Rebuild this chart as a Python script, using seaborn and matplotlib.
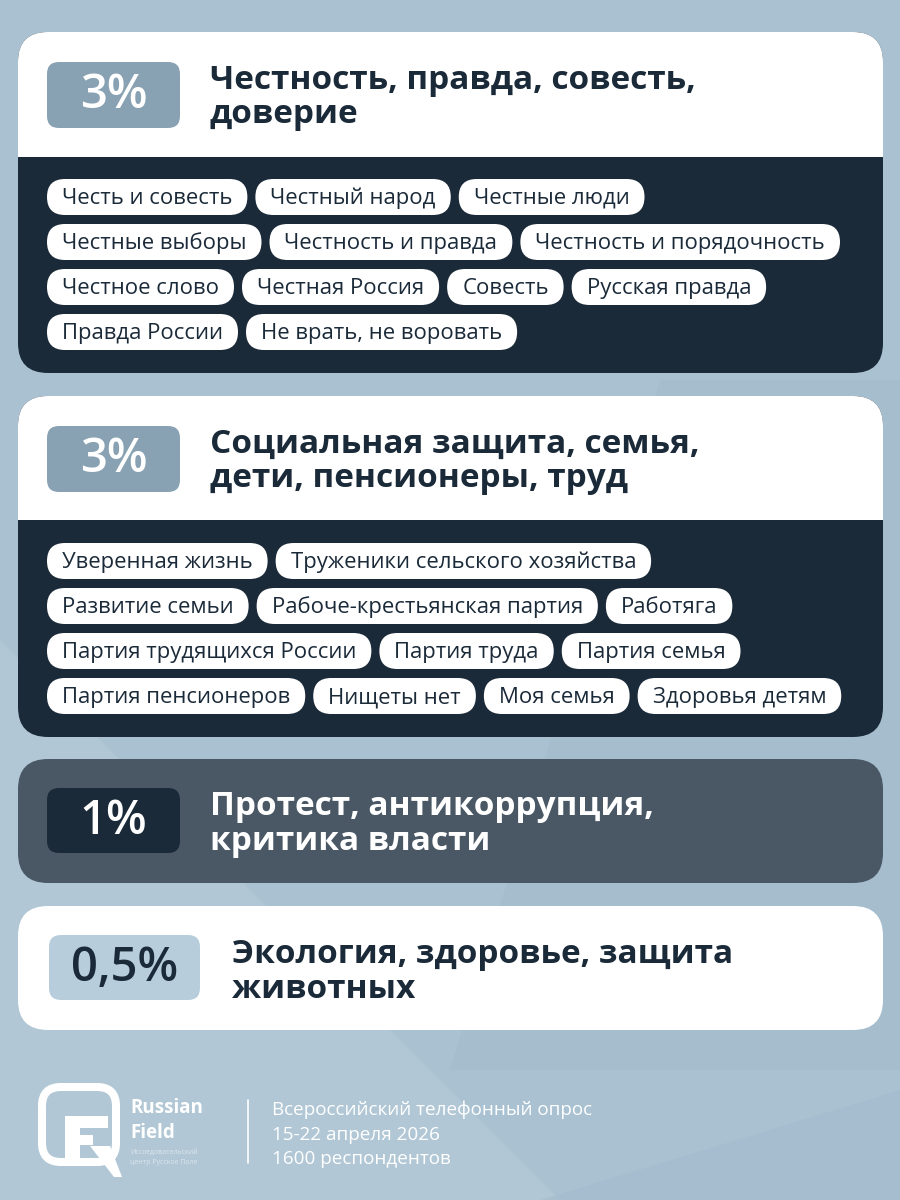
import seaborn as sns
import matplotlib.pyplot as plt
from matplotlib.patches import FancyBboxPatch, Rectangle, Polygon

# ---------------- DATA ----------------
shares = ["3%", "3%", "1%", "0,5%"]
title_lines = [
    ["Честность, правда, совесть,", "доверие"],
    ["Социальная защита, семья,", "дети, пенсионеры, труд"],
    ["Протест, антикоррупция,", "критика власти"],
    ["Экология, здоровье, защита", "животных"],
]
tags_honesty = [
    ["Честь и совесть", "Честный народ", "Честные люди"],
    ["Честные выборы", "Честность и правда", "Честность и порядочность"],
    ["Честное слово", "Честная Россия", "Совесть", "Русская правда"],
    ["Правда России", "Не врать, не воровать"],
]
tags_social = [
    ["Уверенная жизнь", "Труженики сельского хозяйства"],
    ["Развитие семьи", "Рабоче-крестьянская партия", "Работяга"],
    ["Партия трудящихся России", "Партия труда", "Партия семья"],
    ["Партия пенсионеров", "Нищеты нет", "Моя семья", "Здоровья детям"],
]
brand_lines = ["Russian", "Field"]
brand_sub = ["Исследовательский", "центр Русское Поле"]
survey_lines = ["Всероссийский телефонный опрос", "15-22 апреля 2026", "1600 респондентов"]

# ---------------- STYLE ----------------
sns.set_theme(style="white")
plt.rcParams["font.family"] = ["Open Sans", "DejaVu Sans"]

BG = "#a9c1d1"
NAVY = "#1b2a39"
SLATE = "#4a5865"
BADGE_GREY = "#89a2b3"
BADGE_LIGHT = "#b8cddb"

fig = plt.figure(figsize=(9, 12), dpi=100)
ax = fig.add_axes([0, 0, 1, 1])
ax.set_xlim(0, 900)
ax.set_ylim(1200, 0)
ax.axis("off")
fig.patch.set_facecolor(BG)
renderer = fig.canvas.get_renderer()

# background shading
ax.add_patch(Polygon([(0, 1200), (0, 640), (560, 1200)], fc="#b8cdda", ec="none", alpha=0.55, zorder=0))
ax.add_patch(Polygon([(900, 380), (900, 1070), (450, 1070), (660, 380)], fc="#a2bacb", ec="none", alpha=0.5, zorder=0))
ax.add_patch(Polygon([(540, 1200), (900, 1090), (900, 1200)], fc="#a3bbcc", ec="none", alpha=0.5, zorder=0))


def rbox(x, y, w, h, r, color, z=2):
    p = FancyBboxPatch((x, y), w, h, boxstyle=f"round,pad=0,rounding_size={r}",
                       fc=color, ec="none", zorder=z)
    ax.add_patch(p)
    return p


def card(top, split, bottom, head_color, body_color):
    p = rbox(18, top, 865, bottom - top, 30, body_color)
    if split is not None:
        head = Rectangle((0, top), 900, split - top, fc=head_color, ec="none", zorder=2)
        ax.add_patch(head)
        head.set_clip_path(p)
    return p


def badge(x, y, w, h, label, fc, tc):
    rbox(x, y, w, h, 12, fc, z=3)
    ax.text(x + w / 2, y + h / 2 + 1, label, ha="center", va="center",
            fontsize=34, fontweight="semibold", color=tc, zorder=4)


def title(x, baselines, lines, color):
    for b, line in zip(baselines, lines):
        ax.text(x, b, line, ha="left", va="baseline", fontsize=24,
                fontweight="bold", color=color, zorder=4)


def tags(rows, top):
    for i, row in enumerate(rows):
        x = 47
        y = top + i * 45
        for tag in row:
            t = ax.text(x + 15, y + 25, tag, ha="left", va="baseline",
                        fontsize=15.9, color=NAVY, zorder=5)
            w = t.get_window_extent(renderer).width
            rbox(x, y, w + 30, 36, 18, "white", z=4)
            x += w + 30 + 8


# card 1
card(32, 157, 373, "white", NAVY)
badge(47, 62, 133, 66, shares[0], BADGE_GREY, "white")
title(210, [89, 123], title_lines[0], NAVY)
tags(tags_honesty, 179)

# card 2
card(396, 520, 737, "white", NAVY)
badge(47, 426, 133, 66, shares[1], BADGE_GREY, "white")
title(210, [453, 487], title_lines[1], NAVY)
tags(tags_social, 543)

# card 3
card(759, None, 883, None, SLATE)
badge(47, 788, 133, 65, shares[2], NAVY, "white")
title(210, [815, 850], title_lines[2], "white")

# card 4
card(906, None, 1030, None, "white")
badge(49, 935, 151, 65, shares[3], BADGE_LIGHT, NAVY)
title(232, [963, 998], title_lines[3], NAVY)

# ---------------- FOOTER ----------------
# logo: rounded outline with an F inside and a diagonal leg
logo = FancyBboxPatch((42, 1087), 74, 75, boxstyle="round,pad=0,rounding_size=19",
                      fc="none", ec="white", lw=5.8, zorder=3)
ax.add_patch(logo)
ax.add_patch(Rectangle((65, 1116), 15, 46, fc="white", ec="none", zorder=3))
ax.add_patch(Rectangle((65, 1116), 43, 12, fc="white", ec="none", zorder=3))
ax.add_patch(Rectangle((65, 1135), 28, 10, fc="white", ec="none", zorder=3))
ax.add_patch(Polygon([(90, 1146), (110, 1146), (122, 1177), (114, 1177)], fc="white", ec="none", zorder=3))

ax.text(130, 1113, brand_lines[0], fontsize=13.5, fontweight="bold", color="white", va="baseline")
ax.text(130, 1138, brand_lines[1], fontsize=13.5, fontweight="bold", color="white", va="baseline")
ax.text(130, 1154, brand_sub[0], fontsize=5, color="#dbe6ee", va="baseline")
ax.text(130, 1164, brand_sub[1], fontsize=5, color="#dbe6ee", va="baseline")
ax.plot([248, 248], [1100, 1163], color="white", lw=1.2)
for i, line in enumerate(survey_lines):
    ax.text(272, 1115 + i * 24.5, line, fontsize=13.6, color="white", va="baseline")

fig.savefig("out.png", dpi=100, facecolor=BG)
